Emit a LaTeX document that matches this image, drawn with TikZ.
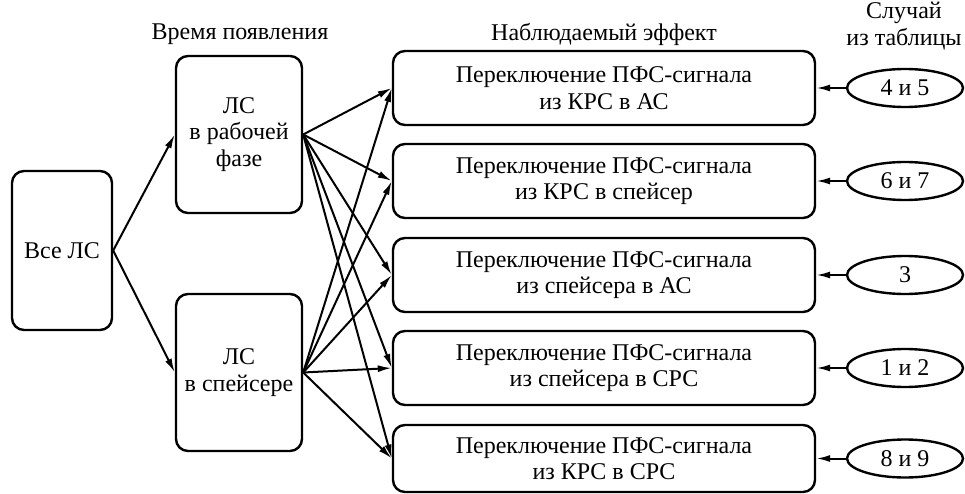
\documentclass[tikz,border=0pt]{standalone}
\usepackage{fontspec}
\setmainfont{Liberation Serif}
\usetikzlibrary{arrows.meta,shapes,positioning,calc}

\begin{document}
\begin{tikzpicture}[
    x=1pt, y=-1pt,
    every node/.style={font=\fontsize{24}{26.5}\selectfont, align=center},
    stage/.style={rectangle, draw, line width=2.4pt, rounded corners=12pt, minimum width=126pt, minimum height=157pt, inner sep=0pt},
    effect/.style={rectangle, draw, line width=2.4pt, rounded corners=12pt, minimum width=422pt, minimum height=74pt, inner sep=0pt},
    tablecase/.style={ellipse, draw, line width=2.4pt, minimum width=116pt, minimum height=38pt, inner sep=0pt},
    link/.style={-{Latex[length=14pt,width=7pt]}, line width=2pt}
]
\useasboundingbox (0,0) rectangle (965,494);

% Headers
\node (timehead) at (240,34) {Время появления};
\node (effhead) at (604,34) {Наблюдаемый эффект};
\node (casehead) at (904,26) {Случай\\из таблицы};

% Sources
\node[stage, minimum width=100pt, minimum height=159pt] (all) at (62,250.5) {Все ЛС};
\node[stage] (work) at (239,134.5) {ЛС\\в рабочей\\фазе};
\node[stage] (spacer) at (239,372.5) {ЛС\\в спейсере};

% Effects
\node[effect] (eff1) at (604,88) {Переключение ПФС-сигнала\\из КРС в АС};
\node[effect] (eff2) at (604,181) {Переключение ПФС-сигнала\\из КРС в спейсер};
\node[effect] (eff3) at (604,275) {Переключение ПФС-сигнала\\из спейсера в АС};
\node[effect] (eff4) at (604,368) {Переключение ПФС-сигнала\\из спейсера в СРС};
\node[effect, minimum height=67pt] (eff5) at (604,458.5) {Переключение ПФС-сигнала\\из КРС в СРС};

% Table cases
\node[tablecase] (case1) at (905,88) {4 и 5};
\node[tablecase] (case2) at (905,181) {6 и 7};
\node[tablecase] (case3) at (905,275) {3};
\node[tablecase] (case4) at (905,368) {1 и 2};
\node[tablecase] (case5) at (905,458.5) {8 и 9};

% Links
\draw[link] (all.east) -- (work.west);
\draw[link] (all.east) -- (spacer.west);
\foreach \i in {1,...,5} {
    \draw[link] (work.east) -- (eff\i.west);
    \draw[link] (spacer.east) -- (eff\i.west);
    \draw[link] (case\i) -- (eff\i);
}

\end{tikzpicture}
\end{document}
